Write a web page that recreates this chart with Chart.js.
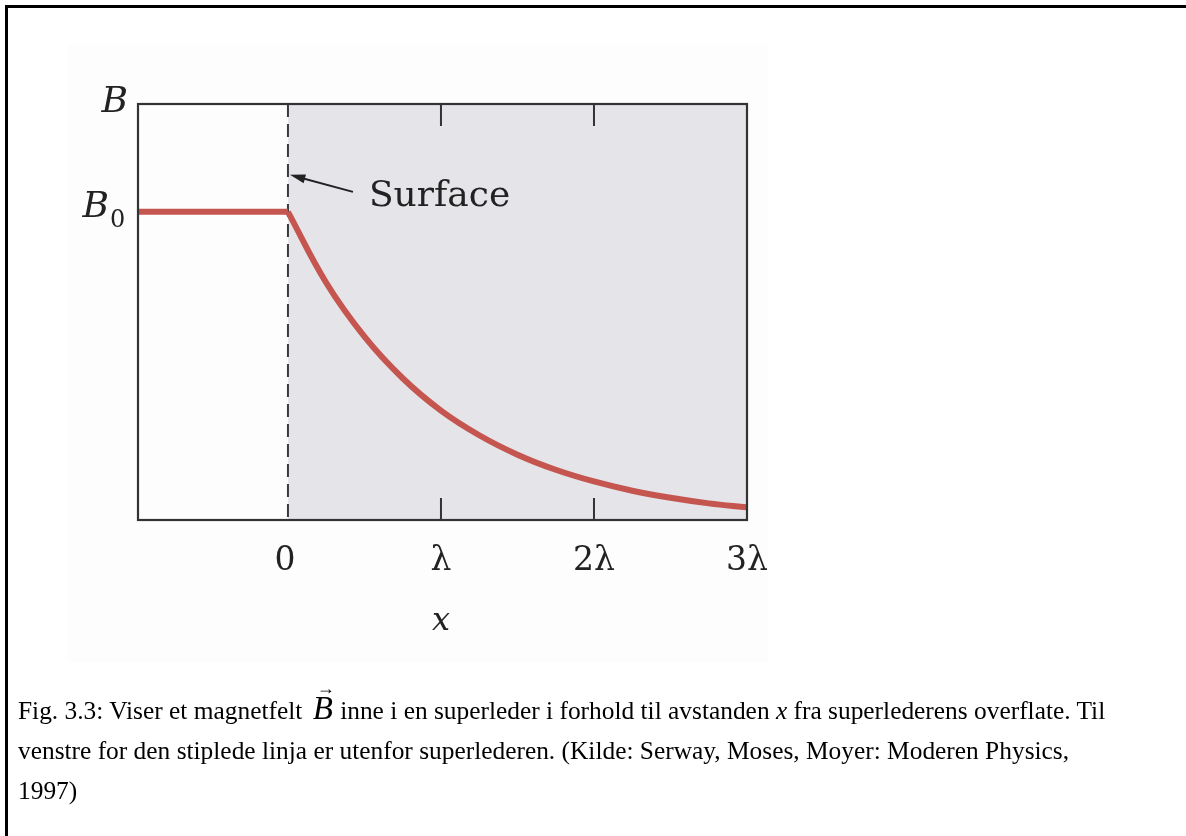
<!DOCTYPE html>
<html>
<head>
<meta charset="utf-8">
<script src="https://cdn.jsdelivr.net/npm/chart.js@4.4.1/dist/chart.umd.min.js"></script>
<style>
  html,body{margin:0;padding:0;background:#fff;}
  #page{position:relative;width:1186px;height:836px;overflow:hidden;background:#fff;}
  #frame{position:absolute;left:5px;top:5px;width:1181px;height:831px;border-top:3px solid #000;border-left:3px solid #000;box-sizing:border-box;}
  #scan{position:absolute;left:67px;top:44px;width:701px;height:618px;background:#fdfdfd;}
  #wrap{position:absolute;left:0;top:0;width:1186px;height:836px;}
  #cap{position:absolute;left:18px;top:690px;font-family:"Liberation Serif","Times New Roman",serif;font-size:25.4px;line-height:40px;white-space:nowrap;color:#000;}
  .vec{position:relative;display:inline-block;font-style:italic;font-size:33px;line-height:0;margin:0 1px 0 4px;}
  .vec .arr{position:absolute;left:4px;top:-29px;font-style:normal;font-size:18px;line-height:1;}
</style>
</head>
<body>
<div id="page">
  <div id="scan"></div>
  <div id="wrap"><canvas id="c" width="1186" height="836"></canvas></div>
  <div id="frame"></div>
  <div id="cap">Fig. 3.3: Viser et magnetfelt <span class="vec">B<span class="arr">&#8594;</span></span> inne i en superleder i forhold til avstanden <i>x</i> fra superlederens overflate. Til<br>venstre for den stiplede linja er utenfor superlederen. (Kilde: Serway, Moses, Moyer: Moderen Physics,<br>1997)</div>
</div>
<script>
// ---- data (x in units of λ, B in units of B0) ----
const outsideX = [-0.98, 0];
const outsideB = [1, 1];
const insideX = [0, 0.25, 0.5, 0.75, 1.0, 1.25, 1.5, 1.75, 2.0, 2.25, 2.5, 2.75, 3.0];
const insideB = [1.0, 0.77, 0.595, 0.46, 0.355, 0.275, 0.212, 0.163, 0.125, 0.095, 0.072, 0.054, 0.041];
const xTickValues = [0, 1, 2, 3];
const xTickLabels = ['0', 'λ', '2λ', '3λ'];
const innerTickValues = [1, 2];
const surfaceX = 0;
const yTopValue = 1.35;
const yB0Value = 1;
const xAxisTitle = 'x';
const annotationText = 'Surface';

const toPts = (xs, ys) => xs.map((x, i) => ({x: x, y: ys[i]}));

const RED = '#c4554f';
const AXIS = '#333333';
const SHADE = '#e4e4e9';
const SERIF = '"DejaVu Serif", "Liberation Serif", serif';

const figurePlugin = {
  id: 'figure',
  beforeDatasetsDraw(chart) {
    const {ctx, chartArea: a, scales: {x, y}} = chart;
    ctx.save();
    const x0 = x.getPixelForValue(surfaceX);
    ctx.fillStyle = SHADE;
    ctx.fillRect(x0, a.top, a.right - x0, a.bottom - a.top);
    ctx.strokeStyle = '#3a3a3a';
    ctx.lineWidth = 2;
    ctx.setLineDash([13, 7]);
    ctx.beginPath();
    ctx.moveTo(x0, a.top);
    ctx.lineTo(x0, a.bottom);
    ctx.stroke();
    ctx.setLineDash([]);
    ctx.restore();
  },
  afterDatasetsDraw(chart) {
    const {ctx, chartArea: a, scales: {x, y}} = chart;
    ctx.save();
    ctx.strokeStyle = AXIS;
    ctx.lineWidth = 2.2;
    ctx.strokeRect(a.left, a.top, a.right - a.left, a.bottom - a.top);
    ctx.lineWidth = 2;
    innerTickValues.forEach(v => {
      const px = x.getPixelForValue(v);
      ctx.beginPath();
      ctx.moveTo(px, a.top); ctx.lineTo(px, a.top + 22);
      ctx.moveTo(px, a.bottom); ctx.lineTo(px, a.bottom - 22);
      ctx.stroke();
    });
    ctx.fillStyle = '#222';
    ctx.font = '33px ' + SERIF;
    ctx.textAlign = 'center';
    ctx.textBaseline = 'alphabetic';
    xTickValues.forEach((v, i) => {
      ctx.fillText(xTickLabels[i], x.getPixelForValue(v) - (i === 0 ? 3 : 0), a.bottom + 50);
    });
    ctx.font = 'italic 32px ' + SERIF;
    ctx.fillText(xAxisTitle, x.getPixelForValue(1), a.bottom + 110);
    ctx.textAlign = 'right';
    ctx.font = 'italic 36px ' + SERIF;
    ctx.fillText('B', a.left - 10, y.getPixelForValue(yTopValue) + 8);
    const yb = y.getPixelForValue(yB0Value);
    ctx.fillText('B', a.left - 29, yb + 5);
    ctx.font = '24px ' + SERIF;
    ctx.textAlign = 'left';
    ctx.fillText('0', a.left - 28, yb + 15);
    const x0 = x.getPixelForValue(surfaceX);
    const tipX = x0 + 2, tipY = y.getPixelForValue(1.12);
    const tailX = x0 + 65, tailY = tipY + 17;
    ctx.strokeStyle = '#222';
    ctx.lineWidth = 2;
    ctx.beginPath();
    ctx.moveTo(tailX, tailY); ctx.lineTo(tipX + 6, tipY + 1.6);
    ctx.stroke();
    const ang = Math.atan2(tipY - tailY, tipX - tailX);
    ctx.fillStyle = '#222';
    ctx.beginPath();
    ctx.moveTo(tipX, tipY);
    ctx.lineTo(tipX - 16 * Math.cos(ang - 0.28), tipY - 16 * Math.sin(ang - 0.28));
    ctx.lineTo(tipX - 16 * Math.cos(ang + 0.28), tipY - 16 * Math.sin(ang + 0.28));
    ctx.closePath();
    ctx.fill();
    ctx.font = '36px ' + SERIF;
    ctx.fillText(annotationText, x0 + 81, tipY + 31);
    ctx.restore();
  }
};

new Chart(document.getElementById('c'), {
  type: 'line',
  data: {
    datasets: [
      {data: toPts(outsideX, outsideB), borderColor: RED, borderWidth: 6, pointRadius: 0, tension: 0, borderCapStyle: 'butt'},
      {data: toPts(insideX, insideB), borderColor: RED, borderWidth: 6, pointRadius: 0, tension: 0.4, borderCapStyle: 'butt'}
    ]
  },
  options: {
    responsive: false,
    animation: false,
    events: [],
    layout: {padding: {left: 138, top: 104, right: 439, bottom: 316}},
    plugins: {legend: {display: false}, tooltip: {enabled: false}},
    scales: {
      x: {type: 'linear', display: false, min: -0.98, max: 3},
      y: {type: 'linear', display: false, min: 0, max: yTopValue}
    }
  },
  plugins: [figurePlugin]
});
</script>
</body>
</html>
